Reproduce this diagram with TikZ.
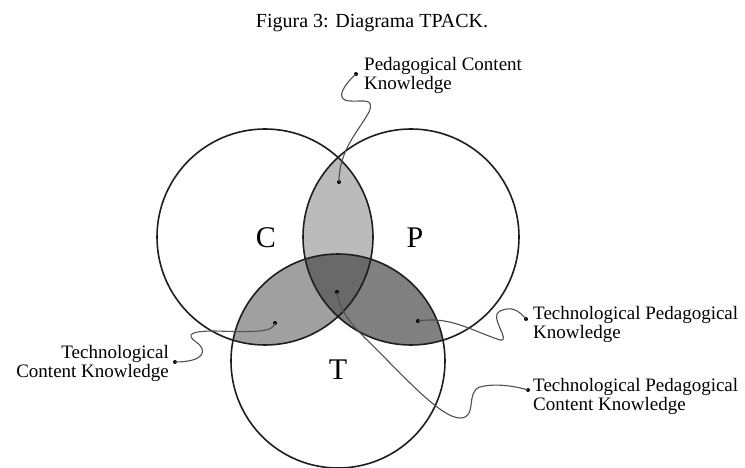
\documentclass[tikz,border=0pt]{standalone}
\usepackage{fontspec}
\setmainfont{Liberation Serif}
\definecolor{cpfill}{RGB}{187,187,187}
\definecolor{ctfill}{RGB}{160,160,160}
\definecolor{ptfill}{RGB}{128,128,128}
\definecolor{ctrfill}{RGB}{105,105,105}
\definecolor{ringcol}{RGB}{30,30,30}
\definecolor{leadcol}{RGB}{80,80,80}
\begin{document}
\begin{tikzpicture}[x=1pt,y=-1pt,
  ring/.style={draw=ringcol, line width=1.6pt},
  leader/.style={draw=leadcol, line width=1.1pt},
  dotmark/.style={circle, fill=black, inner sep=0pt, minimum size=4pt},
  lbl/.style={font=\fontsize{19}{19.5}\selectfont, inner sep=0pt},
  big/.style={font=\fontsize{30}{30}\selectfont, inner sep=0pt}]
\useasboundingbox (0,0) rectangle (745,468);
\def\cC{(265,237) circle[radius=108]}
\def\cP{(411,237) circle[radius=108]}
\def\cT{(338,361) circle[radius=107]}
% fills
\begin{scope}\clip \cC; \fill[cpfill] \cP; \end{scope}
\begin{scope}\clip \cC; \fill[ctfill] \cT; \end{scope}
\begin{scope}\clip \cP; \fill[ptfill] \cT; \end{scope}
\begin{scope}\clip \cC; \clip \cP; \fill[ctrfill] \cT; \end{scope}
% circles
\draw[ring] \cC;
\draw[ring] \cP;
\draw[ring] \cT;
% caption
\node[font=\fontsize{20}{24}\selectfont, anchor=base, inner sep=0pt] (cap) at (372,28) {Figura 3: Diagrama TPACK.};
% big letters
\node[big] (lc) at (266,238) {C};
\node[big] (lp) at (415,238) {P};
\node[big] (lt) at (338,370) {T};
% labels
\node[lbl, anchor=north west, align=left] (pck) at (364,57) {Pedagogical Content\\Knowledge};
\node[lbl, anchor=north east, align=right] (tck) at (169,345) {Technological\\Content Knowledge};
\node[lbl, anchor=north west, align=left] (tpk) at (533,306) {Technological Pedagogical\\Knowledge};
\node[lbl, anchor=north west, align=left] (tpack) at (533,378) {Technological Pedagogical\\Content Knowledge};
% dots
\node[dotmark] (d1a) at (356,74) {};
\node[dotmark] (d1b) at (339,182) {};
\node[dotmark] (d2a) at (175,362) {};
\node[dotmark] (d2b) at (275,323) {};
\node[dotmark] (d3a) at (526,319) {};
\node[dotmark] (d3b) at (418,321) {};
\node[dotmark] (d4a) at (528,390) {};
\node[dotmark] (d4b) at (337,292) {};
% leaders
\draw[leader] (d1a.center) .. controls (345,84) and (333,100) .. (350,101)
  .. controls (362,102) and (375,97) .. (369,112)
  .. controls (358,132) and (339,150) .. (d1b.center);
\draw[leader] (d2a.center) .. controls (205,362) and (208,350) .. (196,342)
  .. controls (185,334) and (192,331) .. (215,331)
  .. controls (250,332) and (274,333) .. (d2b.center);
\draw[leader] (d3b.center) .. controls (450,316) and (470,330) .. (500,340)
  .. controls (512,342) and (488,316) .. (500,311)
  .. controls (512,306) and (518,310) .. (d3a.center);
\draw[leader] (d4b.center) .. controls (338,305) and (345,318) .. (365,338)
  .. controls (400,372) and (440,418) .. (460,418)
  .. controls (478,418) and (465,392) .. (480,387)
  .. controls (495,383) and (515,386) .. (d4a.center);
\end{tikzpicture}
\end{document}
